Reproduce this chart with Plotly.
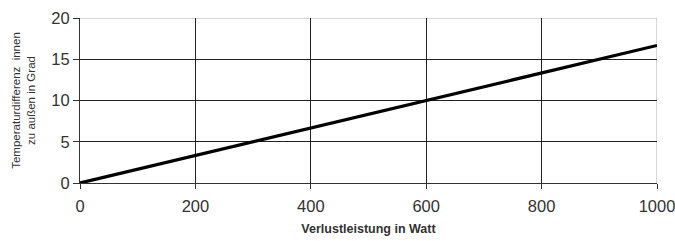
import plotly.graph_objects as go

x_values = [0, 1000]
y_values = [0, 16.67]
x_ticks = [0, 200, 400, 600, 800, 1000]
y_ticks = [0, 5, 10, 15, 20]

fig = go.Figure()
fig.add_trace(go.Scatter(x=x_values, y=y_values, mode="lines",
                         line=dict(color="black", width=3.2), showlegend=False))

# light gray frame top/right
fig.add_shape(type="line", xref="x", yref="y", x0=0, x1=1000, y0=20, y1=20,
              line=dict(color="#b0b0b0", width=1), layer="below")
fig.add_shape(type="line", xref="x", yref="y", x0=1000, x1=1000, y0=0, y1=20,
              line=dict(color="#b0b0b0", width=1), layer="below")

fig.update_layout(
    width=675, height=241,
    margin=dict(l=80, r=18, t=18, b=58),
    paper_bgcolor="white", plot_bgcolor="white",
    font=dict(family="Liberation Sans, Arial", color="#333"),
)
fig.update_xaxes(range=[0, 1000], tickvals=x_ticks, ticks="outside", ticklen=5,
                 tickcolor="#333", showline=True, linecolor="#333", linewidth=1,
                 showgrid=True, gridcolor="#222", gridwidth=1, zeroline=False,
                 tickfont=dict(size=16.5, color="#333"), automargin=False, ticklabelstandoff=3,
                 ticklabeloverflow="allow",
                 title=dict(text="<b>Verlustleistung in Watt</b>", font=dict(size=12.5, color="#333"), standoff=10))
fig.update_yaxes(range=[0, 20], tickvals=y_ticks, ticks="outside", ticklen=6,
                 tickcolor="#333", showline=True, linecolor="#333", linewidth=1,
                 showgrid=True, gridcolor="#222", gridwidth=1, zeroline=False,
                 tickfont=dict(size=16.5, color="#333"), automargin=False,
                 ticklabeloverflow="allow",
                 title=dict(text="Temperaturdifferenz  innen<br>zu außen in Grad", font=dict(size=11.5, color="#333"), standoff=13))

fig.write_html("out.html", config={"displayModeBar": False},
               post_script="document.body.style.margin='0px';document.body.style.overflow='hidden';")
